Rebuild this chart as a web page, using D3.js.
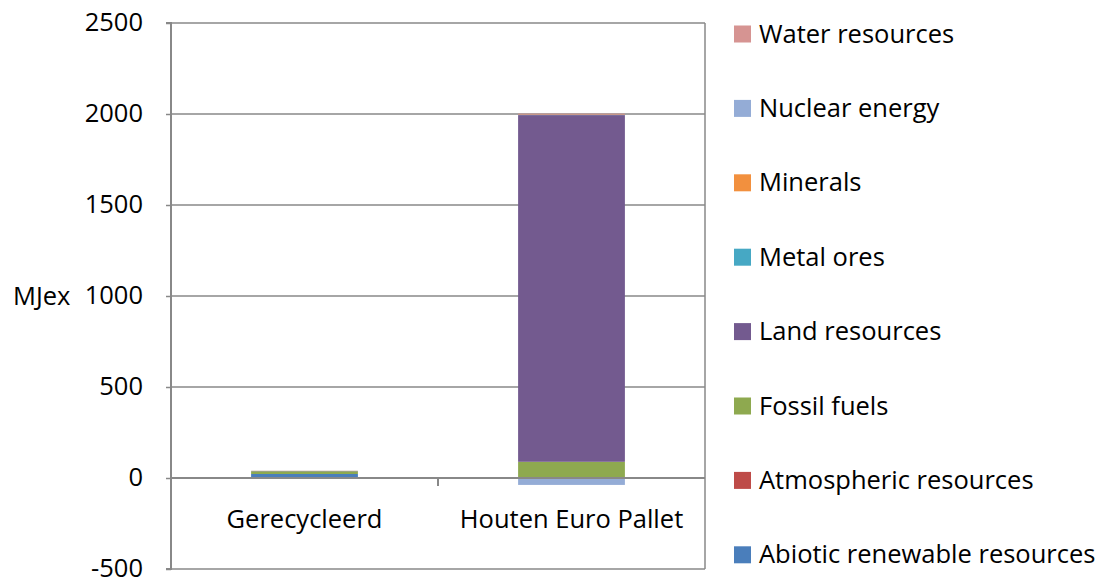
<!DOCTYPE html>
<html>
<head>
<meta charset="utf-8">
<script src="https://cdn.jsdelivr.net/npm/d3@7"></script>
<style>
  html, body { margin: 0; padding: 0; background: #fff; }
  svg text { font-family: "Open Sans", "Noto Sans", sans-serif; fill: #000; }
</style>
</head>
<body>
<svg id="chart" width="1105" height="580"></svg>
<script>
// Exergy use per pallet type, in MJex
const categories = ["Gerecycleerd", "Houten Euro Pallet"];
const seriesNames = [
  "Abiotic renewable resources",
  "Atmospheric resources",
  "Fossil fuels",
  "Land resources",
  "Metal ores",
  "Minerals",
  "Nuclear energy",
  "Water resources"
];
const abiotic     = [22, 1];
const atmospheric = [0, 0];
const fossil      = [15, 88];
const land        = [1.5, 1905];
const metal       = [0.5, 1];
const minerals    = [0.5, 2];
const nuclear     = [-1, -38];
const water       = [0.5, 5];
const seriesColors = ["#4A7EBB", "#BE4B48", "#8EA94F", "#735A8F", "#46A8C4", "#F2903E", "#94ACD6", "#D69492"];
const yTicks = [-500, 0, 500, 1000, 1500, 2000, 2500];
const yTitle = "MJex";

const seriesValues = [abiotic, atmospheric, fossil, land, metal, minerals, nuclear, water];
const rows = categories.map((c, i) => {
  const r = { category: c };
  seriesNames.forEach((s, k) => { r[s] = seriesValues[k][i]; });
  return r;
});

const svg = d3.select("#chart");
const plot = { left: 171, right: 705, top: 23, bottom: 569 };
const fontSize = 25.5;

const x = d3.scaleBand().domain(categories).range([plot.left, plot.right]).paddingInner(0.6).paddingOuter(0.3);
const xOuter = d3.scaleBand().domain(categories).range([plot.left, plot.right]);
const y = d3.scaleLinear().domain([-500, 2500]).range([plot.bottom, plot.top]);

const gray = "#888888";

// horizontal gridlines
svg.append("g").selectAll("line").data(yTicks).join("line")
  .attr("x1", plot.left).attr("x2", plot.right)
  .attr("y1", d => y(d)).attr("y2", d => y(d))
  .attr("stroke", gray).attr("stroke-width", 1.5);

// right border of the plot area
svg.append("line")
  .attr("x1", plot.right).attr("x2", plot.right)
  .attr("y1", y(2500)).attr("y2", y(-500))
  .attr("stroke", gray).attr("stroke-width", 1.5);

// stacked bars (negatives stack below zero)
const stack = d3.stack().keys(seriesNames).offset(d3.stackOffsetDiverging);
const layers = stack(rows);
const color = d3.scaleOrdinal().domain(seriesNames).range(seriesColors);

svg.append("g").selectAll("g").data(layers).join("g")
  .attr("fill", d => color(d.key))
  .selectAll("rect").data(d => d).join("rect")
  .attr("x", d => x(d.data.category))
  .attr("width", x.bandwidth())
  .attr("y", d => y(Math.max(d[0], d[1])))
  .attr("height", d => Math.abs(y(d[0]) - y(d[1])));

// zero axis with category separators
svg.append("line")
  .attr("x1", plot.left).attr("x2", plot.right)
  .attr("y1", y(0)).attr("y2", y(0))
  .attr("stroke", gray).attr("stroke-width", 2);
svg.append("g").selectAll("line")
  .data(categories.slice(1))
  .join("line")
  .attr("x1", d => xOuter(d)).attr("x2", d => xOuter(d))
  .attr("y1", y(0)).attr("y2", y(0) + 8)
  .attr("stroke", gray).attr("stroke-width", 2);

// category labels
svg.append("g").selectAll("text").data(categories).join("text")
  .attr("x", d => xOuter(d) + xOuter.bandwidth() / 2)
  .attr("y", 528)
  .attr("text-anchor", "middle")
  .attr("font-size", fontSize)
  .text(d => d);

// y axis
const yAxis = d3.axisLeft(y).tickValues(yTicks).tickSize(5).tickPadding(23)
  .tickFormat(d => String(d));
const gy = svg.append("g").attr("transform", `translate(${plot.left},0)`).call(yAxis);
gy.select(".domain").attr("stroke", gray).attr("stroke-width", 2).attr("d", `M-5,${y(2500)}H0V${y(-500)}H-5`);
gy.selectAll(".tick line").attr("stroke", gray).attr("stroke-width", 1.5);
gy.selectAll(".tick text")
  .attr("font-family", "'Open Sans', 'Noto Sans', sans-serif")
  .attr("font-size", fontSize).attr("fill", "#000")
  .attr("dy", "0.3em");

svg.append("text")
  .attr("x", 13).attr("y", y(1000) + 9)
  .attr("font-size", fontSize)
  .text(yTitle);

// legend, top entry is the last series
const legendItems = seriesNames.slice().reverse();
const legend = svg.append("g").selectAll("g").data(legendItems).join("g")
  .attr("transform", (d, i) => `translate(734, ${34 + i * 74.4})`);
legend.append("rect")
  .attr("x", 0).attr("y", -8.5).attr("width", 17).attr("height", 17)
  .attr("fill", d => color(d));
legend.append("text")
  .attr("x", 25).attr("y", 8.5)
  .attr("font-size", fontSize)
  .text(d => d);
</script>
</body>
</html>
